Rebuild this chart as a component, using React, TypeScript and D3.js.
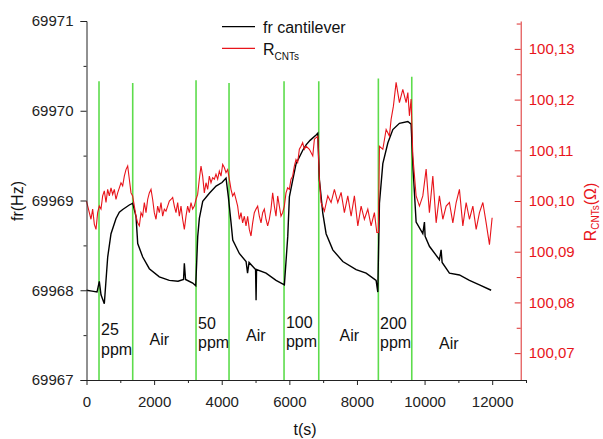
import React, { useEffect, useRef } from "react";
import * as d3 from "d3";

// resonance frequency of the cantilever: [time (s), fr (Hz)]
const cantilever: [number, number][] = [
  [0, 69968.0], [163, 69967.99], [311, 69967.98], [379, 69968.1], [429, 69967.95],
  [527, 69967.85], [627, 69968.37], [725, 69968.63], [873, 69968.8], [971, 69968.87], [1071, 69968.9],
  [1266, 69968.95], [1367, 69968.97], [1465, 69968.82], [1515, 69968.52], [1663, 69968.37],
  [1858, 69968.24], [2154, 69968.15], [2450, 69968.11], [2707, 69968.1], [2870, 69968.12],
  [2894, 69968.3], [2930, 69968.12], [3142, 69968.08], [3231, 69968.05], [3290, 69968.6],
  [3338, 69968.8], [3438, 69968.99], [3634, 69969.08], [3832, 69969.16], [4009, 69969.2],
  [4128, 69969.25], [4196, 69969.04], [4276, 69968.75], [4326, 69968.56], [4521, 69968.41],
  [4720, 69968.32], [4764, 69968.19], [4808, 69968.31], [5001, 69968.23], [5016, 69967.89],
  [5030, 69968.23], [5311, 69968.19], [5607, 69968.11], [5853, 69968.06], [5953, 69968.6],
  [6001, 69969.04], [6101, 69969.23], [6199, 69969.41], [6397, 69969.56], [6495, 69969.62],
  [6613, 69969.67], [6791, 69969.73], [6841, 69969.75], [6889, 69969.23], [6989, 69968.86],
  [7087, 69968.63], [7285, 69968.45], [7581, 69968.32], [7975, 69968.23], [8271, 69968.19],
  [8566, 69968.11], [8616, 69967.98], [8665, 69968.97], [8765, 69969.41], [8913, 69969.64],
  [9061, 69969.79], [9256, 69969.86], [9505, 69969.88], [9602, 69969.85], [9661, 69969.34],
  [9750, 69968.76], [9948, 69968.63], [9996, 69968.76], [10016, 69968.6], [10143, 69968.49],
  [10439, 69968.34], [10489, 69968.45], [10519, 69968.31], [10735, 69968.19], [11031, 69968.17],
  [11327, 69968.11], [11623, 69968.06], [11969, 69968.0],
];

// resistance of the CNT film: [time (s), R (ohm)]
const resistance: [number, number][] = [
  [0, 100.1], [84, 100.0977], [133, 100.0964], [182, 100.0984], [232, 100.0954], [281, 100.0944],
  [330, 100.0977], [379, 100.099], [429, 100.0984], [478, 100.101], [527, 100.102], [577, 100.0997],
  [626, 100.1023], [675, 100.101], [725, 100.1026], [774, 100.1013], [823, 100.1023], [872, 100.1003],
  [922, 100.1016], [971, 100.1026], [1020, 100.1036], [1070, 100.103], [1119, 100.1049], [1168, 100.1062],
  [1218, 100.1069], [1267, 100.1043], [1316, 100.1016], [1365, 100.101], [1415, 100.099], [1464, 100.097],
  [1513, 100.0957], [1563, 100.0951], [1612, 100.0977], [1661, 100.097], [1711, 100.0997], [1760, 100.0977],
  [1809, 100.1003], [1858, 100.1016], [1908, 100.1023], [1957, 100.1003], [2006, 100.0977], [2056, 100.0964],
  [2105, 100.099], [2154, 100.0977], [2204, 100.0997], [2253, 100.097], [2302, 100.0984], [2351, 100.098],
  [2401, 100.099], [2450, 100.1], [2499, 100.1003], [2549, 100.1007], [2598, 100.099], [2647, 100.0977],
  [2697, 100.0997], [2746, 100.097], [2795, 100.099], [2844, 100.0964], [2894, 100.0944], [2943, 100.097],
  [2992, 100.099], [3042, 100.0977], [3091, 100.0997], [3140, 100.0984], [3190, 100.099], [3239, 100.1003],
  [3288, 100.1013], [3337, 100.1043], [3387, 100.1069], [3436, 100.1049], [3485, 100.1016], [3535, 100.1036],
  [3584, 100.1023], [3633, 100.1049], [3683, 100.1036], [3732, 100.1046], [3781, 100.1043], [3830, 100.1053],
  [3880, 100.1043], [3929, 100.1059], [3978, 100.1049], [4028, 100.1072], [4077, 100.1066], [4126, 100.1056],
  [4176, 100.1062], [4225, 100.1043], [4274, 100.1023], [4323, 100.101], [4373, 100.1016], [4422, 100.1003],
  [4471, 100.099], [4521, 100.0964], [4570, 100.0977], [4619, 100.0957], [4669, 100.097], [4718, 100.0951],
  [4767, 100.097], [4816, 100.0944], [4866, 100.0931], [4915, 100.0957], [4964, 100.0977], [5014, 100.0984],
  [5063, 100.099], [5112, 100.097], [5162, 100.0957], [5211, 100.0977], [5260, 100.0984], [5309, 100.0964],
  [5359, 100.0951], [5408, 100.0964], [5457, 100.0984], [5507, 100.1016], [5556, 100.099], [5605, 100.097],
  [5655, 100.101], [5704, 100.099], [5753, 100.097], [5802, 100.0977], [5852, 100.099], [5901, 100.1016],
  [5950, 100.1026], [6000, 100.1023], [6049, 100.1043], [6098, 100.1049], [6148, 100.1069], [6197, 100.1082],
  [6246, 100.1076], [6296, 100.1102], [6345, 100.1108], [6394, 100.1115], [6444, 100.1102], [6495, 100.1108],
  [6593, 100.1102], [6693, 100.1089], [6741, 100.1122], [6841, 100.1128], [6889, 100.1043], [6939, 100.0997],
  [7037, 100.098], [7137, 100.101], [7235, 100.0997], [7333, 100.1023], [7433, 100.0997], [7531, 100.1017],
  [7628, 100.0977], [7729, 100.101], [7827, 100.097], [7924, 100.101], [8025, 100.0951], [8123, 100.099],
  [8220, 100.0964], [8321, 100.0984], [8418, 100.0951], [8516, 100.0977], [8587, 100.0938], [8634, 100.0938],
  [8665, 100.1108], [8765, 100.1102], [8863, 100.1141], [8960, 100.1128], [9010, 100.1161], [9078, 100.1187],
  [9158, 100.1234], [9256, 100.1194], [9356, 100.122], [9454, 100.1194], [9505, 100.1214], [9552, 100.1168],
  [9602, 100.1201], [9652, 100.1089], [9750, 100.101], [9848, 100.099], [9948, 100.101], [10046, 100.1063],
  [10143, 100.0977], [10244, 100.1049], [10342, 100.0957], [10439, 100.101], [10540, 100.0964], [10638, 100.099],
  [10735, 100.0997], [10836, 100.0957], [10934, 100.0997], [11031, 100.1023], [11132, 100.0951], [11230, 100.0997],
  [11327, 100.0964], [11428, 100.099], [11526, 100.0944], [11623, 100.0977], [11724, 100.0997], [11821, 100.0957],
  [11919, 100.0914], [11998, 100.0967],
];

// gas on / off switching times and the top of each green marker (Hz)
const switchTimes = [370, 1367, 3240, 4216, 5843, 6870, 8633, 9621];
const switchTops = [69970.33, 69970.31, 69970.34, 69970.31, 69970.33, 69970.33, 69970.36, 69970.38];

// phase labels: text lines, time, baseline (Hz)
const phaseText = [["25", "ppm"], ["Air"], ["50", "ppm"], ["Air"], ["100", "ppm"], ["Air"], ["200", "ppm"], ["Air"]];
const phaseT = [429, 1863, 3298, 4718, 5900, 7483, 8681, 10426];
const phaseV = [69967.5, 69967.39, 69967.57, 69967.43, 69967.58, 69967.43, 69967.57, 69967.35];

const freqTicks = [69967, 69968, 69969, 69970, 69971];
const resTicks = [100.07, 100.08, 100.09, 100.1, 100.11, 100.12, 100.13];
const timeTicks = [0, 2000, 4000, 6000, 8000, 10000, 12000];

const FONT = "'Liberation Sans', Arial, sans-serif";
const RED = "#e8141b";
const AXIS_RED = "#dc2b2b";
const GREEN = "#5ddc4c";

const App = () => {
  const ref = useRef<SVGSVGElement>(null);

  useEffect(() => {
    const svg = d3.select(ref.current);
    svg.selectAll("*").remove();

    const x = d3.scaleLinear().domain([0, 13000]).range([86.5, 526]);
    const y = d3.scaleLinear().domain([69967, 69971]).range([380, 21]);
    const yR = d3.scaleLinear().domain([100.0647, 100.1355]).range([380, 21]);
    const rightX = 520.7;

    // green switching markers
    svg
      .append("g")
      .selectAll("line")
      .data(switchTimes)
      .join("line")
      .attr("x1", (d) => x(d))
      .attr("x2", (d) => x(d))
      .attr("y1", y(69967))
      .attr("y2", (d, i) => y(switchTops[i]))
      .attr("stroke", GREEN)
      .attr("stroke-width", 1.6);

    const line = d3
      .line<[number, number]>()
      .x((d) => x(d[0]))
      .y((d) => y(d[1]));
    const lineR = d3
      .line<[number, number]>()
      .x((d) => x(d[0]))
      .y((d) => yR(d[1]));

    svg
      .append("path")
      .attr("d", line(cantilever))
      .attr("fill", "none")
      .attr("stroke", "#000")
      .attr("stroke-width", 1.4);

    svg
      .append("path")
      .attr("d", lineR(resistance))
      .attr("fill", "none")
      .attr("stroke", RED)
      .attr("stroke-width", 1.1);

    // left axis
    const gL = svg.append("g").attr("transform", `translate(${x(0)},0)`);
    gL.call(
      d3.axisLeft(y).tickValues(freqTicks).tickSize(6).tickPadding(7).tickFormat(d3.format("d"))
    );
    gL.append("g").call(
      d3.axisLeft(y).tickValues(d3.range(69967.5, 69971, 1)).tickSize(3).tickFormat(() => "")
    ).select(".domain").remove();

    // right axis
    const gR = svg.append("g").attr("transform", `translate(${rightX},0)`);
    gR.call(
      d3
        .axisRight(yR)
        .tickValues(resTicks)
        .tickSizeInner(-6)
        .tickSizeOuter(0)
        .tickPadding(8)
        .tickFormat((d) => d3.format(".2f")(d as number).replace(".", ","))
    );
    gR.append("g").call(
      d3
        .axisRight(yR)
        .tickValues(d3.range(100.075, 100.135, 0.01))
        .tickSizeInner(-4)
        .tickSizeOuter(0)
        .tickFormat(() => "")
    ).select(".domain").remove();
    gR.selectAll(".domain, line").attr("stroke", AXIS_RED);
    gR.selectAll("text").attr("fill", RED);

    // bottom axis
    const gB = svg.append("g").attr("transform", `translate(0,${y(69967)})`);
    gB.call(
      d3
        .axisBottom(x)
        .tickValues(timeTicks)
        .tickSizeInner(5)
        .tickSizeOuter(0)
        .tickPadding(11)
        .tickFormat(d3.format("d"))
    );
    gB.append("g").call(
      d3.axisBottom(x).tickValues(d3.range(1000, 14000, 2000)).tickSize(3).tickFormat(() => "")
    ).select(".domain").remove();

    svg.selectAll(".tick text").attr("font-size", 15).attr("font-family", FONT);
    gL.selectAll("text").attr("fill", "#222");
    gB.selectAll("text").attr("fill", "#222");
    gL.selectAll(".domain, line").attr("stroke", "#222");
    gB.selectAll(".domain, line").attr("stroke", "#222");

    // phase labels
    const labels = svg
      .append("g")
      .attr("font-family", FONT)
      .attr("font-size", 16)
      .attr("fill", "#111");
    phaseText.forEach((lines, i) => {
      lines.forEach((s, j) => {
        labels
          .append("text")
          .attr("x", x(phaseT[i]))
          .attr("y", y(phaseV[i]) + j * 19.5)
          .text(s);
      });
    });

    // axis titles
    svg
      .append("text")
      .attr("transform", "translate(23,201) rotate(-90)")
      .attr("text-anchor", "middle")
      .attr("font-family", FONT)
      .attr("font-size", 16)
      .attr("fill", "#111")
      .text("fr(Hz)");

    const rt = svg
      .append("text")
      .attr("transform", "translate(596,212) rotate(-90)")
      .attr("text-anchor", "middle")
      .attr("font-family", FONT)
      .attr("font-size", 16)
      .attr("fill", RED);
    rt.append("tspan").text("R");
    rt.append("tspan").attr("font-size", 10).attr("dy", 3).text("CNTs");
    rt.append("tspan").attr("dy", -3).text("(Ω)");

    svg
      .append("text")
      .attr("x", 305)
      .attr("y", 435)
      .attr("text-anchor", "middle")
      .attr("font-family", FONT)
      .attr("font-size", 16)
      .attr("fill", "#111")
      .text("t(s)");

    // legend
    const lg = svg.append("g").attr("font-family", FONT).attr("font-size", 16).attr("fill", "#111");
    lg.append("line").attr("x1", 222).attr("x2", 255).attr("y1", 26.7).attr("y2", 26.7)
      .attr("stroke", "#000").attr("stroke-width", 1.3);
    lg.append("text").attr("x", 263).attr("y", 32.5).text("fr cantilever");
    lg.append("line").attr("x1", 222).attr("x2", 255).attr("y1", 48.3).attr("y2", 48.3)
      .attr("stroke", RED).attr("stroke-width", 1.3);
    const lt = lg.append("text").attr("x", 263).attr("y", 54.5);
    lt.append("tspan").text("R");
    lt.append("tspan").attr("font-size", 10).attr("dy", 5).text("CNTs");
  }, []);

  return (
    <svg
      ref={ref}
      width={603}
      height={439}
      style={{ position: "absolute", left: 0, top: 0, background: "#fff" }}
    />
  );
};

export default App;
